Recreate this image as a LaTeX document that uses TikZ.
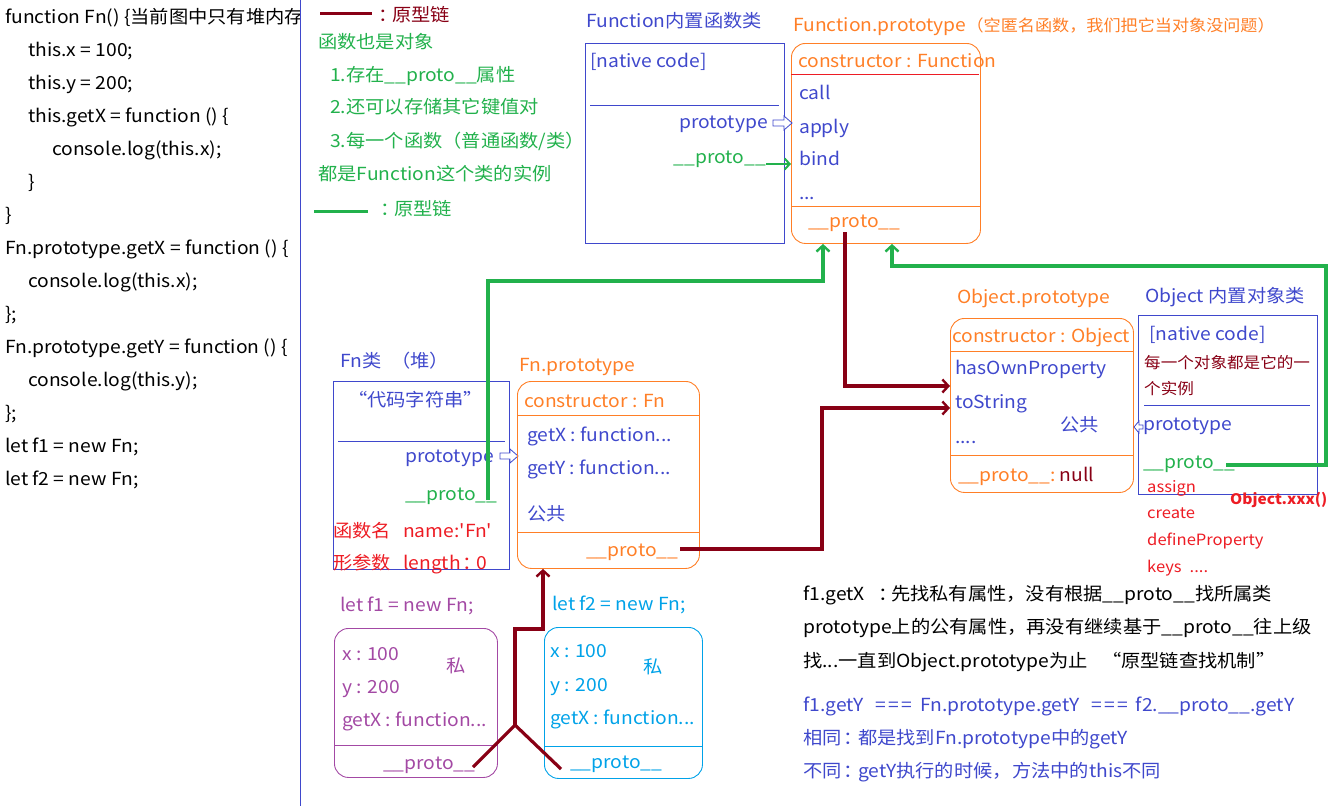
\documentclass[tikz,border=0pt]{standalone}
\usepackage{fontspec}
\setmainfont{Noto Sans CJK SC}[Ligatures=TeXOff, FakeStretch=1.07]
\usetikzlibrary{arrows.meta}
\definecolor{bluec}{RGB}{63,72,204}
\definecolor{orangec}{RGB}{255,127,39}
\definecolor{greenc}{RGB}{34,177,76}
\definecolor{dredc}{RGB}{136,0,21}
\definecolor{redc}{RGB}{237,28,36}
\definecolor{purplec}{RGB}{163,73,164}
\definecolor{cyanc}{RGB}{0,162,232}
\newcommand{\fsz}[1]{\fontsize{#1}{#1}\selectfont}
\newcommand{\pr}{\_\_proto\_\_}
\newcommand{\eqq}{=\hspace{2pt}=\hspace{2pt}=}
\newcommand{\harrowR}[3]{\draw[bluec, line width=0.8pt, fill=white] (#1,#3-3) -- (#2-8,#3-3) -- (#2-8,#3-7) -- (#2,#3) -- (#2-8,#3+7) -- (#2-8,#3+3) -- (#1,#3+3) -- cycle;}
\tikzset{
  lbl/.style={anchor=west, inner sep=0pt, font=\fsz{18}, text height=17pt, text depth=4pt},
  sml/.style={lbl, font=\fsz{15.5}},
  sqbox/.style={draw, anchor=north west, inner sep=0pt, line width=0.9pt},
  rbox/.style={sqbox, rounded corners=14pt},
  gconn/.style={greenc, line width=3.2pt, -{Straight Barb[length=6pt,width=13pt,line width=2.4pt]}},
  rconn/.style={dredc, line width=3.2pt, -{Straight Barb[length=6pt,width=13pt,line width=2.4pt]}},
}
\begin{document}
\begin{tikzpicture}[x=1pt,y=-1pt]
\useasboundingbox (0,0) rectangle (1329,806);
% code column
\begin{scope}
\clip (0,0) rectangle (299,806);
\node[lbl] (c1) at (5,17) {function Fn() \{当前图中只有堆内存};
\node[lbl] (c2) at (28,50) {this.x = 100;};
\node[lbl] (c3) at (28,83) {this.y = 200;};
\node[lbl] (c4) at (28,116) {this.getX = function () \{};
\node[lbl] (c5) at (52,149) {console.log(this.x);};
\node[lbl] (c6) at (28,182) {\}};
\node[lbl] (c7) at (5,215) {\}};
\node[lbl] (c8) at (5,248) {Fn.prototype.getX = function () \{};
\node[lbl] (c9) at (28,281) {console.log(this.x);};
\node[lbl] (c10) at (5,314) {\};};
\node[lbl] (c11) at (5,347) {Fn.prototype.getY = function () \{};
\node[lbl] (c12) at (28,380) {console.log(this.y);};
\node[lbl] (c13) at (5,413) {\};};
\node[lbl] (c14) at (5,446) {let f1 = new Fn;};
\node[lbl] (c15) at (5,479) {let f2 = new Fn;};
\end{scope}
\draw[bluec, line width=1pt] (300,0) -- (300,806);
% legend
\draw[dredc, line width=3pt] (320,13) -- (372,13);
\node[lbl, dredc] (lg1) at (378,15) {：\hspace{-5pt}原型链};
\node[lbl, greenc] (lg2) at (318,42) {函数也是对象};
\node[lbl, greenc] (lg3) at (330,75) {1.存在\pr 属性};
\node[lbl, greenc] (lg4) at (330,107) {2.还可以存储其它键值对};
\node[lbl, greenc] (lg5) at (330,141) {3.每一个函数（普通函数/类）};
\node[lbl, greenc] (lg6) at (318,174) {都是Function这个类的实例};
\draw[greenc, line width=3pt] (314,211) -- (368,211);
\node[lbl, greenc] (lg7) at (380,209) {：\hspace{-5pt}原型链};
% Function class
\node[lbl, bluec] (ftitle) at (586,21) {Function内置函数类};
\node[sqbox, bluec, minimum width=199pt, minimum height=200pt] (fbox) at (585,43) {};
\node[lbl, bluec] (fnat) at (590,61) {[native code]};
\draw[bluec, line width=0.9pt] (590,105) -- (779,105);
\node[lbl, bluec, anchor=east] (fprot) at (768,122) {prototype};
\node[lbl, greenc, anchor=east] (fproto) at (766,157) {\pr};
% Function.prototype
\node[lbl, orangec] (fptitle) at (793,25) {Function.prototype\fsz{16}（空匿名函数，我们把它当对象没问题）};
\node[rbox, orangec, minimum width=189pt, minimum height=200pt] (fpbox) at (791,43) {};
\node[lbl, orangec] (fpcons) at (798,61) {constructor : Function};
\draw[redc, line width=0.9pt] (791,74) -- (979,74);
\node[lbl, bluec] (fpcall) at (799,93) {call};
\node[lbl, bluec] (fpapply) at (799,127) {apply};
\node[lbl, bluec] (fpbind) at (799,159) {bind};
\node[lbl, bluec] (fpdots) at (799,193) {...};
\draw[orangec, line width=0.9pt] (791,206) -- (980,206);
\node[lbl, orangec] (fpproto) at (808,221) {\pr};
\harrowR{773}{792}{123}
\draw[greenc, line width=2.6pt, -{Straight Barb[length=5pt,width=11pt,line width=2pt]}] (fproto.east |- 0,164) -- (fpbox.west |- 0,164);
% Object.prototype
\node[lbl, orangec] (optitle) at (957,297) {Object.prototype};
\node[rbox, orangec, minimum width=183pt, minimum height=174pt] (opbox) at (950,318) {};
\node[lbl, orangec] (opcons) at (952,336) {constructor : Object};
\draw[orangec, line width=0.9pt] (950,351) -- (1133,351);
\node[lbl, bluec] (ophas) at (955,368) {hasOwnProperty};
\node[lbl, bluec] (opts) at (955,402) {toString};
\node[lbl, bluec] (opdots) at (955,437) {....};
\node[lbl, bluec] (oppub) at (1060,425) {公共};
\draw[orangec, line width=0.9pt] (950,455) -- (1133,455);
\node[lbl, orangec] (opproto) at (958,475) {\pr:\hspace{4pt}\textcolor{dredc}{null}};
% Object class
\node[lbl, bluec] (otitle) at (1145,296) {Object 内置对象类};
\node[sqbox, bluec, minimum width=179pt, minimum height=179pt] (obox) at (1138,315) {};
\node[lbl, bluec] (onat) at (1149,334) {[native code]};
\node[sml, dredc] (oeach) at (1144,362) {每一个对象都是它的一};
\node[sml, dredc] (oeach2) at (1144,388) {个实例};
\draw[bluec, line width=0.9pt] (1144,405) -- (1310,405);
\node[lbl, bluec] (oprot) at (1143,424) {prototype};
\draw[bluec, line width=0.8pt, fill=white] (1143,425) -- (1139,425) -- (1139,421) -- (1134,427) -- (1139,433) -- (1139,429) -- (1143,429) -- cycle;
\node[lbl, greenc] (oproto) at (1143,462) {\pr};
\node[sml, redc] (oassign) at (1147,486) {assign};
\node[sml, redc, font=\fsz{14.5}\bfseries] (oxxx) at (1230,498) {Object.xxx()};
\node[sml, redc] (ocreate) at (1147,512) {create};
\node[sml, redc] (odef) at (1147,539) {defineProperty};
\node[sml, redc] (okeys) at (1147,566) {keys\hspace{8pt}....};
% Fn class
\node[lbl, bluec] (fntitle) at (340,361) {Fn类\hspace{10pt}（堆）};
\node[sqbox, bluec, minimum width=176pt, minimum height=188pt] (fnbox) at (333,381) {};
\node[lbl, bluec] (fncode) at (348,400) {“代码字符串”};
\draw[bluec, line width=0.9pt] (338,441) -- (505,441);
\node[lbl, bluec] (fnprot) at (405,456) {prototype};
\node[lbl, greenc] (fnproto) at (405,494) {\pr};
\node[lbl, redc] (fnname0) at (333,531) {函数名};
\node[lbl, redc] (fnname) at (403,531) {name:'Fn'};
\node[lbl, redc] (fnlen0) at (333,563) {形参数};
\node[lbl, redc] (fnlen) at (403,563) {length\hspace{2pt}：\hspace{-6pt}0};
\harrowR{500}{518}{456}
% Fn.prototype
\node[lbl, orangec] (fnptitle) at (519,365) {Fn.prototype};
\node[rbox, orangec, minimum width=182pt, minimum height=187pt] (fnpbox) at (517,381) {};
\node[lbl, orangec] (fnpcons) at (524,401) {constructor : Fn};
\draw[orangec, line width=0.9pt] (517,415) -- (699,415);
\node[lbl, bluec] (fnpgx) at (527,435) {getX : function...};
\node[lbl, bluec] (fnpgy) at (527,468) {getY : function...};
\node[lbl, bluec] (fnppub) at (527,514) {公共};
\draw[orangec, line width=0.9pt] (517,532) -- (699,532);
\node[lbl, orangec] (fnpproto) at (586,550) {\pr};
% f1
\node[lbl, purplec] (f1title) at (340,605) {let f1 = new Fn;};
\node[rbox, purplec, minimum width=163pt, minimum height=149pt] (f1box) at (334,628) {};
\node[lbl, purplec] (f1x) at (342,654) {x : 100};
\node[lbl, purplec] (f1y) at (342,687) {y : 200};
\node[lbl, purplec] (f1g) at (342,720) {getX : function...};
\node[lbl, purplec] (f1p) at (446,666) {私};
\draw[purplec, line width=0.9pt] (334,745) -- (497,745);
\node[lbl, purplec] (f1proto) at (383,763) {\pr};
% f2
\node[lbl, cyanc] (f2title) at (552,604) {let f2 = new Fn;};
\node[rbox, cyanc, minimum width=158pt, minimum height=151pt] (f2box) at (544,627) {};
\node[lbl, cyanc] (f2x) at (550,651) {x : 100};
\node[lbl, cyanc] (f2y) at (550,685) {y : 200};
\node[lbl, cyanc] (f2g) at (550,718) {getX : function...};
\node[lbl, cyanc] (f2p) at (643,667) {私};
\draw[cyanc, line width=0.9pt] (544,746) -- (702,746);
\node[lbl, cyanc] (f2proto) at (570,762) {\pr};
% bottom text
\node[lbl] (t1) at (803,594) {f1.getX\hspace{14pt}：\hspace{-7pt}先找私有属性，没有根据\pr 找所属类};
\node[lbl] (t2) at (803,627) {prototype上的公有属性，再没有继续基于\pr 往上级};
\node[lbl] (t3) at (803,661) {找...一直到Object.prototype为止\hspace{14pt}“原型链查找机制”};
\node[lbl, bluec] (t4) at (803,705) {f1.getY\hspace{12pt}\eqq\hspace{8pt}Fn.prototype.getY\hspace{12pt}\eqq\hspace{8pt}f2.\pr.getY};
\node[lbl, bluec] (t5) at (803,738) {相同\hspace{2pt}：\hspace{-5pt}都是找到Fn.prototype中的getY};
\node[lbl, bluec] (t6) at (803,771) {不同\hspace{2pt}：\hspace{-5pt}getY执行的时候，方法中的this不同};
% connectors
\coordinate (g1s) at (488,500);
\coordinate (g1a) at (823,281);
\draw[gconn] (g1s) |- (g1a) -- (g1a |- fpbox.south);
\coordinate (g2s) at (1226,465);
\coordinate (g2r) at (1326,266);
\coordinate (g2l) at (892,266);
\draw[gconn] (g2s) -| (g2r) -- (g2l) -- (g2l |- fpbox.south);
\coordinate (r1s) at (845,232);
\draw[rconn] (r1s) |- (opbox.west |- 0,386);
\coordinate (r2s) at (680,549);
\coordinate (r2a) at (822,408);
\draw[rconn] (r2s) -| (r2a) -- (opbox.west |- r2a);
\coordinate (yj) at (515,725);
\coordinate (y1) at (473,767);
\coordinate (y2) at (561,769);
\coordinate (ya) at (543,629);
\draw[dredc, line width=3.2pt] (y1) -- (yj) -- (y2);
\draw[rconn] (yj) |- (ya) -- (ya |- fnpbox.south);
\end{tikzpicture}
\end{document}
